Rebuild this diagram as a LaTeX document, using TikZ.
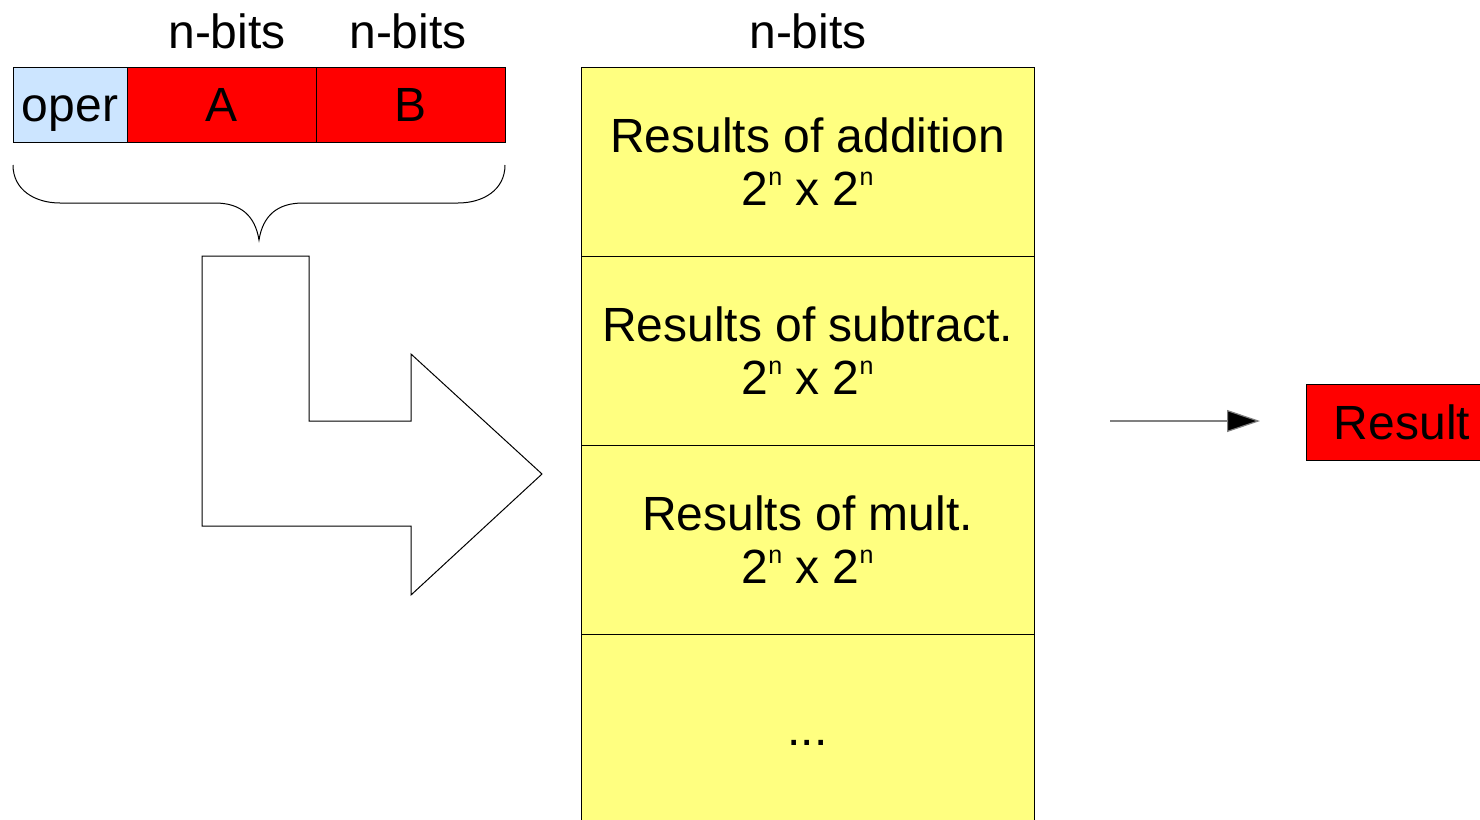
\documentclass[tikz,border=0pt]{standalone}
\usepackage{fontspec}
\setmainfont{Liberation Sans}
\usetikzlibrary{arrows.meta}
\definecolor{operblue}{RGB}{204,229,255}
\definecolor{cellred}{RGB}{255,0,0}
\definecolor{tabyellow}{RGB}{255,255,128}
\newcommand{\supn}{\raisebox{10pt}{\fontsize{12.5}{12.5}\selectfont n}}
\begin{document}
\begin{tikzpicture}[x=0.5pt,y=-0.5pt,
  every node/.style={font=\fontsize{24}{26.5}\selectfont},
  cellbox/.style={draw=black, line width=0.5pt, inner sep=0pt, align=center},
  oneline/.style={text height=17.2pt, text depth=0pt},
  lbl/.style={inner sep=0pt},
  outline/.style={draw=black, line width=0.5pt}]
\useasboundingbox (0,0) rectangle (1480,820);
\clip (0,0) rectangle (1480,820);
% instruction word
\node[cellbox, oneline, fill=operblue, minimum width=57pt, minimum height=37.5pt] (oper) at (70,104.5) {oper};
\node[cellbox, oneline, fill=cellred, minimum width=94.5pt, minimum height=37.5pt] (A) at (221.5,104.5) {A};
\node[cellbox, oneline, fill=cellred, minimum width=94.5pt, minimum height=37.5pt] (B) at (410.5,104.5) {B};
\node[lbl] (nbA) at (227,31) {n-bits};
\node[lbl] (nbB) at (408,31) {n-bits};
\node[lbl] (nbT) at (808,31) {n-bits};
% brace
\draw[outline] (13,165) .. controls (13,190) and (35,203) .. (60,203)
  -- (215,203) .. controls (240,203) and (255,215) .. (259,240)
  .. controls (263,215) and (278,203) .. (303,203)
  -- (458,203) .. controls (483,203) and (505,190) .. (505,165);
% bent arrow
\draw[outline] (202,256) -- (309,256) -- (309,421) -- (411,421) -- (411,354)
  -- (542,474) -- (411,595) -- (411,526) -- (202,526) -- cycle;
% table
\node[cellbox, fill=tabyellow, minimum width=226.5pt, minimum height=94.5pt] (r1) at (807.5,161.5)
  {Results of addition\\2\supn{} x 2\supn};
\node[cellbox, fill=tabyellow, minimum width=226.5pt, minimum height=94.5pt] (r2) at (807.5,350.5)
  {Results of subtract.\\2\supn{} x 2\supn};
\node[cellbox, fill=tabyellow, minimum width=226.5pt, minimum height=94.5pt] (r3) at (807.5,539.5)
  {Results of mult.\\2\supn{} x 2\supn};
\node[cellbox, oneline, fill=tabyellow, minimum width=226.5pt, minimum height=94.5pt] (r4) at (807.5,728.5) {...};
% output arrow
\coordinate (outS) at (1110,421);
\coordinate (outE) at (1260,421);
\draw[draw=gray, line width=0.6pt, -{Triangle[length=16.5pt, width=11pt, fill=black]}] (outS) -- (outE);
\node[cellbox, oneline, fill=cellred, minimum width=92pt, minimum height=38pt] (res) at (1398,422) {\hspace*{4pt}Result};
\end{tikzpicture}
\end{document}
